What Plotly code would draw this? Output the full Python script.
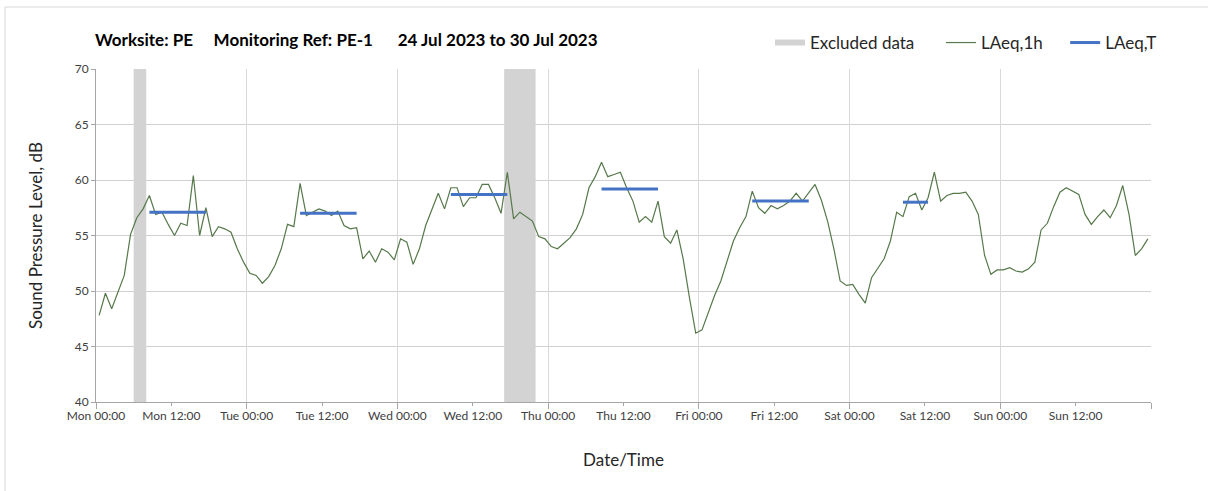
import pandas as pd
import plotly.graph_objects as go

# LAeq,1h values, one per hour from Mon 24 Jul 2023 00:00 (plotted at the half hour)
laeq_1h = [
    47.8, 49.8, 48.4, 49.9, 51.4, 55.1, 56.6, 57.4, 58.6, 56.9, 57.1, 56.0,
    55.0, 56.1, 55.9, 60.4, 55.0, 57.5, 54.9, 55.8, 55.6, 55.3, 53.8, 52.6,
    51.6, 51.4, 50.7, 51.3, 52.3, 53.8, 56.0, 55.8, 59.7, 56.8, 57.1, 57.4,
    57.2, 56.8, 57.2, 55.9, 55.6, 55.7, 52.9, 53.6, 52.6, 53.8, 53.5, 52.8,
    54.7, 54.4, 52.4, 53.8, 55.9, 57.3, 58.8, 57.4, 59.3, 59.3, 57.6, 58.4,
    58.4, 59.6, 59.6, 58.4, 57.0, 60.7, 56.5, 57.1, 56.7, 56.3, 54.9, 54.7,
    54.0, 53.8, 54.3, 54.8, 55.6, 56.9, 59.3, 60.3, 61.6, 60.3, 60.5, 60.7,
    59.3, 58.1, 56.2, 56.7, 56.2, 58.1, 54.9, 54.3, 55.5, 52.9, 49.4, 46.2,
    46.5, 48.1, 49.6, 50.9, 52.8, 54.5, 55.7, 56.7, 59.0, 57.5, 57.0, 57.7,
    57.4, 57.7, 58.1, 58.8, 58.1, 58.9, 59.6, 58.2, 56.3, 53.8, 50.9, 50.5,
    50.6, 49.7, 48.9, 51.2, 52.0, 52.9, 54.5, 57.1, 56.7, 58.5, 58.8, 57.3,
    58.4, 60.7, 58.1, 58.6, 58.8, 58.8, 58.9, 58.1, 56.9, 53.2, 51.5, 51.9,
    51.9, 52.1, 51.8, 51.7, 52.0, 52.6, 55.5, 56.1, 57.6, 58.9, 59.3, 59.0,
    58.7, 56.9, 56.0, 56.7, 57.3, 56.6, 57.7, 59.5, 56.9, 53.2, 53.8, 54.7,
]

# LAeq,T daytime periods
period_start = ['2023-07-24 08:30', '2023-07-25 08:30', '2023-07-26 08:30',
                '2023-07-27 08:30', '2023-07-28 08:30', '2023-07-29 08:30']
period_end = ['2023-07-24 17:30', '2023-07-25 17:30', '2023-07-26 17:30',
              '2023-07-27 17:30', '2023-07-28 17:30', '2023-07-29 12:30']
laeq_t = [57.1, 57.0, 58.7, 59.2, 58.1, 58.0]

# excluded data periods
excluded_start = ['2023-07-24 06:00', '2023-07-26 17:00']
excluded_end = ['2023-07-24 08:00', '2023-07-26 22:00']

tick_labels = ['Mon 00:00', 'Mon 12:00', 'Tue 00:00', 'Tue 12:00', 'Wed 00:00', 'Wed 12:00',
               'Thu 00:00', 'Thu 12:00', 'Fri 00:00', 'Fri 12:00', 'Sat 00:00', 'Sat 12:00',
               'Sun 00:00', 'Sun 12:00']

y_min, y_max = 40, 70
start = pd.Timestamp('2023-07-24 00:00')
end = start + pd.Timedelta(days=7)
times = pd.date_range(start + pd.Timedelta(minutes=30), periods=len(laeq_1h), freq='h')
tick_vals = pd.date_range(start, periods=len(tick_labels), freq='12h')

FONT = 'Lato'
W, H = 1208, 491
ML, MR, MT, MB = 96, 57, 69, 89
PW, PH = W - ML - MR, H - MT - MB

band_x, band_y = [], []
for s, e in zip(excluded_start, excluded_end):
    band_x += [s, s, e, e, s, None]
    band_y += [y_min, y_max, y_max, y_min, y_min, None]

t_x, t_y = [], []
for s, e, v in zip(period_start, period_end, laeq_t):
    t_x += [s, e, None]
    t_y += [v, v, None]

nb = '\u00a0'
fig = go.Figure()
fig.add_trace(go.Scatter(x=band_x, y=band_y, fill='toself', mode='none',
                         fillcolor='#d3d3d3', name='Excluded data' + nb * 5, hoverinfo='skip'))
fig.add_trace(go.Scatter(x=times, y=laeq_1h, mode='lines', name='LAeq,1h' + nb * 4,
                         line=dict(color='#56784a', width=1.2)))
fig.add_trace(go.Scatter(x=t_x, y=t_y, mode='lines', name='LAeq,T',
                         line=dict(color='#4472C4', width=3)))
# empty trace so the day grid axis gets drawn
fig.add_trace(go.Scatter(x=[], y=[], xaxis='x2', showlegend=False))

title = ('<b>Worksite: PE' + nb * 5 + 'Monitoring Ref: PE-1' + nb * 6
         + '24 Jul 2023 to 30 Jul 2023</b>')

# light frame on the top and left like the exported chart
fig.add_shape(type='rect', xref='paper', yref='paper',
              x0=(5 - ML) / PW, x1=(W + 20 - ML) / PW,
              y0=-(H + 20 - MT - PH) / PH, y1=(MT + PH - 7) / PH,
              line=dict(color='#d9d9d9', width=1), layer='below')

fig.update_layout(
    width=W, height=H,
    margin=dict(l=ML, r=MR, t=MT, b=MB, autoexpand=False),
    paper_bgcolor='white', plot_bgcolor='white',
    font=dict(family=FONT, color='#262626'),
    title=dict(text=title, x=95 / W, xanchor='left', y=1 - 40 / H, yanchor='middle',
               xref='container', yref='container', font=dict(size=17, color='black')),
    showlegend=True,
    legend=dict(orientation='h', x=(770 - ML) / PW, xanchor='left',
                y=(MT + PH - 43) / PH, yanchor='middle',
                font=dict(size=17, color='#262626'), bgcolor='rgba(0,0,0,0)'),
    xaxis=dict(type='date', range=[start, end], tickvals=tick_vals, ticktext=tick_labels,
               ticks='outside', ticklen=3, tickcolor='#a6a6a6', showline=True,
               linecolor='#a6a6a6', showgrid=False, zeroline=False, automargin=False,
               tickfont=dict(size=12, color='#404040'),
               title=dict(text='Date/Time', font=dict(size=17, color='#262626'), standoff=31)),
    xaxis2=dict(type='date', range=[start, end], overlaying='x', side='bottom', anchor='y',
                tick0=start, dtick=86400000, ticks='outside', ticklen=6, tickcolor='#a6a6a6',
                showticklabels=False, showgrid=True, gridcolor='#d9d9d9', zeroline=False),
    yaxis=dict(range=[y_min, y_max], dtick=5, ticks='outside', ticklen=4, tickcolor='#a6a6a6',
               showline=True, linecolor='#a6a6a6', gridcolor='#d0d0d0', zeroline=False,
               automargin=False, tickfont=dict(size=12, color='#404040'),
               title=dict(text='Sound Pressure Level, dB', font=dict(size=17, color='#262626'),
                          standoff=27)),
)

config = {'displayModeBar': False}
# drop the page's default body margin so the figure sits at the window origin
fig.write_html('out.html', config=config, post_script="document.body.style.margin = '0px';")
